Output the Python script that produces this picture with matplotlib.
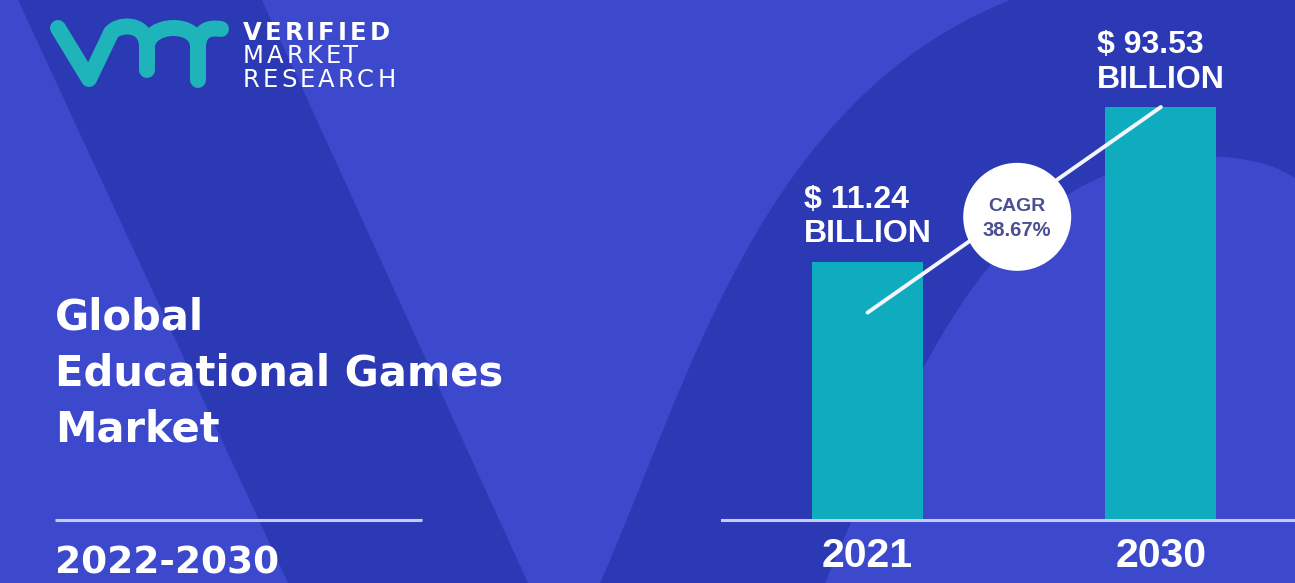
import matplotlib
matplotlib.use("Agg")
import matplotlib.pyplot as plt
from matplotlib.path import Path
from matplotlib.patches import PathPatch, Polygon, Circle

# market size, USD billion
years = ["2021", "2030"]
market_size = [11.24, 93.53]
cagr = 38.67
title_lines = ["Global", "Educational Games", "Market"]
period = "2022-2030"
brand = ["VERIFIED", "MARKET", "RESEARCH"]

W, H = 1295, 583
LIGHT = "#3c49cc"
DARK = "#2b39b5"
TEAL = "#0eacbe"
LOGO = "#1fb4b9"
RULE = "#c6caf1"
INK = "#4b4f94"

fig = plt.figure(figsize=(W / 100, H / 100), dpi=100)
fig.patch.set_facecolor(LIGHT)

# background layer, pixel coordinates (y down)
bg = fig.add_axes([0, 0, 1, 1])
bg.set_xlim(0, W)
bg.set_ylim(H, 0)
bg.axis("off")

bg.add_patch(Polygon([(18, 0), (262, 0), (528, H), (288, H)], closed=True, fc=DARK, ec="none"))

C, L4, M2, Q3 = Path.CURVE4, Path.LINETO, Path.MOVETO, Path.CURVE3
right_band = Path([(600, H), (690, 380), (760, 100), (1010, 0), (W, 0), (W, H), (600, H)],
                  [M2, C, C, C, L4, L4, Path.CLOSEPOLY])
bg.add_patch(PathPatch(right_band, fc=DARK, ec="none"))
arch = Path([(825, H), (920, 360), (1000, 160), (1200, 156), (1262, 156), (W, 178), (W, H), (825, H)],
            [M2, C, C, C, Q3, Q3, L4, Path.CLOSEPOLY])
bg.add_patch(PathPatch(arch, fc=LIGHT, ec="none"))

# logo mark
logo_kw = dict(fc="none", ec=LOGO, lw=11.5, capstyle="round", joinstyle="round")
bg.add_patch(PathPatch(Path([(58, 28), (89, 79), (111, 33)], [M2, L4, L4]), **logo_kw))
bg.add_patch(PathPatch(Path([(111, 33), (117, 24), (146, 21), (147, 46), (147, 70)],
                            [M2, C, C, C, L4]), **logo_kw))
bg.add_patch(PathPatch(Path([(147, 46), (149, 23), (197, 21), (198, 46), (198, 80)],
                            [M2, C, C, C, L4]), **logo_kw))
bg.add_patch(PathPatch(Path([(198, 46), (199, 31), (208, 27), (221, 29)],
                            [M2, C, C, C]), **logo_kw))

renderer = fig.canvas.get_renderer()


def spaced_text(ax, x, y, s, gap, **kw):
    for ch in s:
        t = ax.text(x, y, ch, **kw)
        x += t.get_window_extent(renderer).width + gap


for word, base, wt in zip(brand, [40, 63, 87], ["bold", "normal", "normal"]):
    spaced_text(bg, 243, base, word, 3.0, fontsize=17.5, fontweight=wt, color="white",
                family="DejaVu Sans", va="baseline")

for line, base in zip(title_lines, [330, 386, 441]):
    bg.text(55, base, line, fontsize=30, fontweight="bold", color="white",
            family="DejaVu Sans", va="baseline")
bg.plot([55, 422], [520, 520], color=RULE, lw=2.2, solid_capstyle="butt")
bg.text(55, 574, period, fontsize=27, fontweight="bold", color="white",
        family="DejaVu Sans", va="baseline")

# bar chart
ax = fig.add_axes([722 / W, (H - 520) / H, (W - 722) / W, 413 / H], zorder=1)
ax.set_facecolor("none")
x = list(range(len(years)))
ax.bar(x, market_size, width=0.378, color=TEAL, log=True, zorder=2)
ax.set_ylim(0.33, 93.53)
ax.set_xlim(-0.496, 1.457)
for side in ["top", "right", "left"]:
    ax.spines[side].set_visible(False)
ax.spines["bottom"].set_color(RULE)
ax.spines["bottom"].set_linewidth(2.2)
ax.tick_params(axis="y", which="both", left=False, labelleft=False)
ax.set_xticks(x, years)
ax.tick_params(axis="x", which="both", length=0, pad=12, labelsize=29.5, labelcolor="white")
for lbl in ax.get_xticklabels():
    lbl.set_fontweight("bold")
    lbl.set_family("Liberation Sans")

for xi, v in zip(x, market_size):
    ax.annotate(f"$ {v:.2f}\nBILLION", xy=(xi, v), xytext=(0, 9), textcoords="offset points",
                ha="center", va="bottom", multialignment="left", fontsize=23,
                fontweight="bold", color="white", family="Liberation Sans",
                linespacing=1.2, annotation_clip=False)

# growth line, from mid first bar to top of last bar
gx = [x[0], x[-1]]
gy = [market_size[0] / 2, market_size[-1]]
ax.plot(gx, gy, color="#f4f5ff", lw=2.8, solid_capstyle="round", clip_on=False, zorder=3)

ov = fig.add_axes([0, 0, 1, 1], zorder=2)
ov.set_xlim(0, W)
ov.set_ylim(H, 0)
ov.axis("off")
ends = ov.transData.inverted().transform(ax.transData.transform(list(zip(gx, gy))))
cx, cy = ends.mean(axis=0)
cx += 3
cy += 7
ov.add_patch(Circle((cx, cy), 54, fc="white", ec="none"))
ov.text(cx, cy - 6, "CAGR", ha="center", va="baseline", fontsize=14, fontweight="bold",
        color=INK, family="Liberation Sans")
ov.text(cx, cy + 19, f"{cagr:.2f}%", ha="center", va="baseline", fontsize=14.5,
        fontweight="bold", color=INK, family="Liberation Sans")

fig.savefig("out.png", dpi=100, facecolor=fig.get_facecolor())
